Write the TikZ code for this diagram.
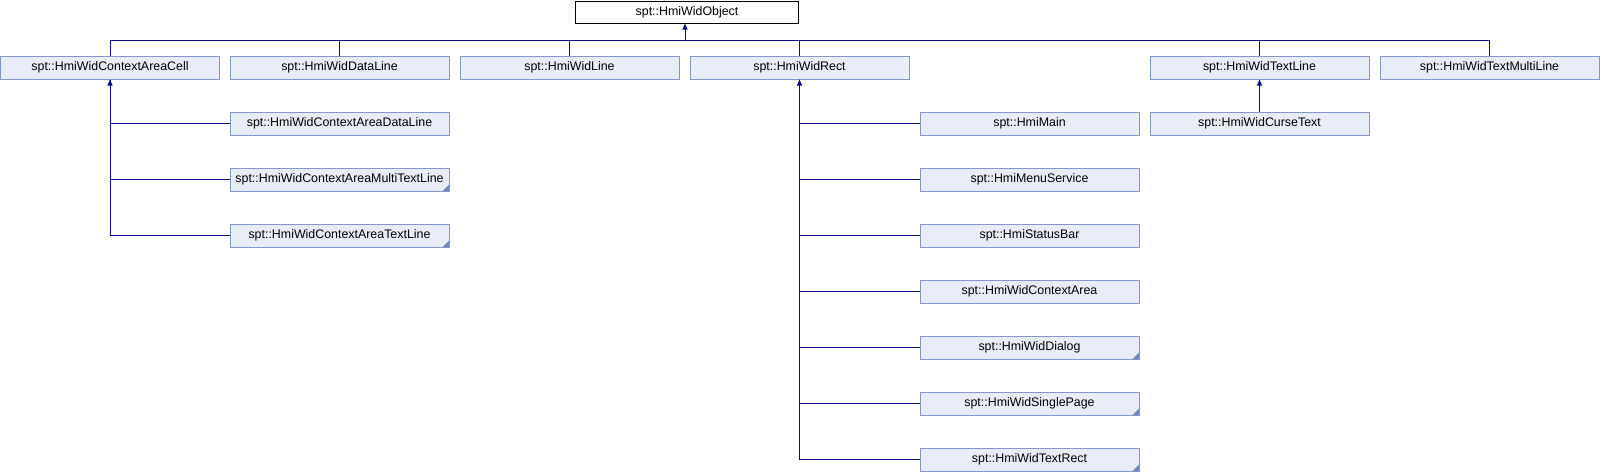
\documentclass[tikz,border=0pt]{standalone}
\usepackage{fontspec}
\setmainfont{Liberation Sans}
\usetikzlibrary{arrows.meta,calc}
\definecolor{boxfill}{HTML}{E8ECF6}
\definecolor{boxdraw}{HTML}{8497CA}
\definecolor{cornercol}{HTML}{7088C4}
\definecolor{edgecol}{HTML}{0A0A8A}
\tikzset{
  cls/.style={draw=boxdraw,fill=boxfill,line width=1pt,minimum width=219pt,minimum height=23pt,inner sep=0pt,font=\fontsize{12.4}{14}\selectfont},
  topcls/.style={draw=black,fill=white,line width=1pt,minimum width=223pt,minimum height=22pt,inner sep=0pt,font=\fontsize{12.4}{14}\selectfont},
  edge/.style={draw=edgecol,line width=1pt},
  tip/.style={edge,{Triangle[width=5pt,length=6pt]}-},
  corner/.style={fill=cornercol}
}
\begin{document}
\begin{tikzpicture}[x=1pt,y=-1pt]
\useasboundingbox (0,0) rectangle (1600,472);
\node[topcls] (obj) at (687,12) {spt::HmiWidObject};
% row 1
\node[cls] (cell) at (110,67.5) {spt::HmiWidContextAreaCell};
\node[cls] (dline) at (339.5,67.5) {spt::HmiWidDataLine};
\node[cls] (line) at (569.5,67.5) {spt::HmiWidLine};
\node[cls] (rect) at (799.5,67.5) {spt::HmiWidRect};
\node[cls] (tline) at (1259.5,67.5) {spt::HmiWidTextLine};
\node[cls] (tmline) at (1489.5,67.5) {spt::HmiWidTextMultiLine};
% cell children
\node[cls] (cadl) at (339.5,123.5) {spt::HmiWidContextAreaDataLine};
\node[cls] (camtl) at (339.5,179.5) {spt::HmiWidContextAreaMultiTextLine};
\node[cls] (catl) at (339.5,235.5) {spt::HmiWidContextAreaTextLine};
% rect children
\node[cls] (main) at (1029.5,123.5) {spt::HmiMain};
\node[cls] (menu) at (1029.5,179.5) {spt::HmiMenuService};
\node[cls] (status) at (1029.5,235.5) {spt::HmiStatusBar};
\node[cls] (carea) at (1029.5,291.5) {spt::HmiWidContextArea};
\node[cls] (dialog) at (1029.5,347.5) {spt::HmiWidDialog};
\node[cls] (single) at (1029.5,403.5) {spt::HmiWidSinglePage};
\node[cls] (trect) at (1029.5,459.5) {spt::HmiWidTextRect};
% textline child
\node[cls] (curse) at (1259.5,123.5) {spt::HmiWidCurseText};
% corner marks
\foreach \n in {camtl,catl,dialog,single,trect}
  \fill[corner] ($(\n.south east)+(-0.5pt,0.5pt)$) -- ++(0pt,6.5pt) -- ++(-6.5pt,-6.5pt) -- cycle;
% bus
\coordinate (bus) at (685,40);
\draw[tip] (obj.south -| bus) -- (bus);
\foreach \n in {cell,dline,line,rect,tline,tmline} \draw[edge] (bus) -| (\n.north);
% cell children
\draw[tip] (cell.south) |- (cadl.west);
\foreach \n in {camtl,catl} \draw[edge] (cell.south) |- (\n.west);
% rect children
\draw[tip] (rect.south) |- (main.west);
\foreach \n in {menu,status,carea,dialog,single,trect} \draw[edge] (rect.south) |- (\n.west);
% textline child
\draw[tip] (tline.south) -- (curse.north);
\end{tikzpicture}
\end{document}
